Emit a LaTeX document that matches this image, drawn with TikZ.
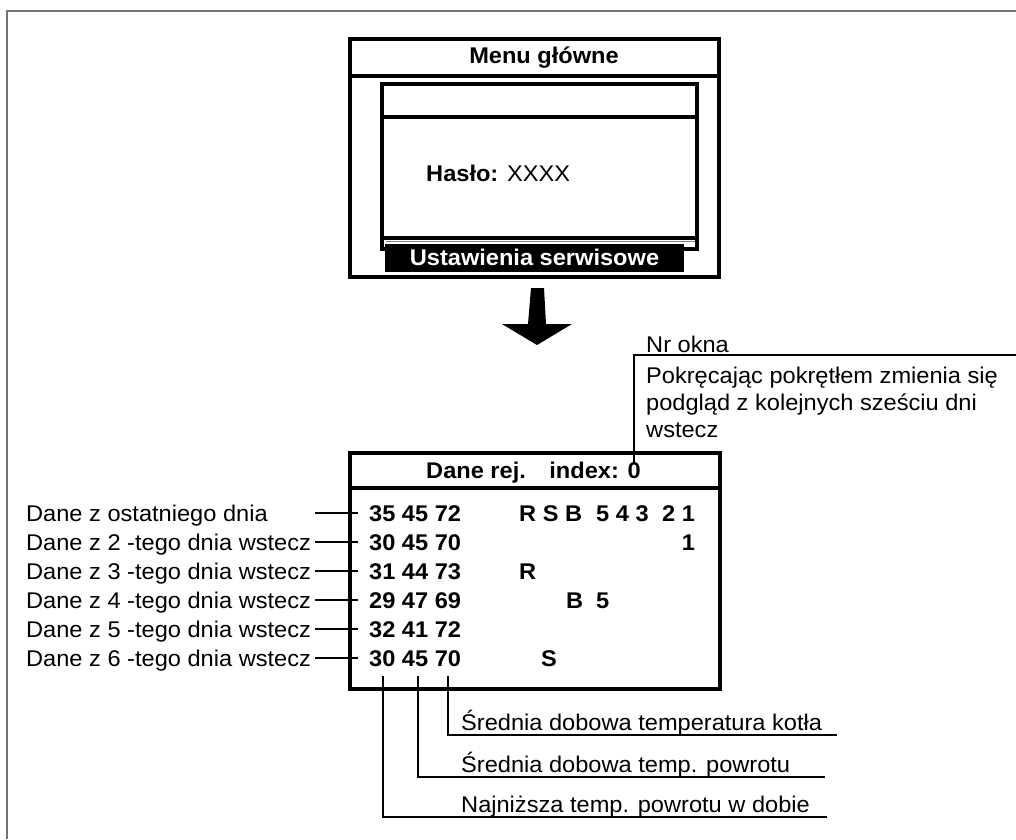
\documentclass[tikz,border=0pt]{standalone}
\usepackage{fontspec}
\setmainfont{Liberation Sans}[FakeStretch=1.04]
\usetikzlibrary{positioning,calc}

\newcommand{\lblfont}{\fontsize{22.7}{27}\selectfont}

\begin{document}
\begin{tikzpicture}[x=1pt, y=-1pt,
  lbl/.style={font=\lblfont, inner sep=0pt, anchor=base west},
  val/.style={font=\lblfont\bfseries, inner sep=0pt, anchor=base west},
  screen/.style={line width=3.4pt},
  lead/.style={line width=1.4pt},
  edge/.style={line width=1.6pt, draw=black!55}
]
\useasboundingbox (0,0) rectangle (1016,839);

% page frame
\draw[edge] (1016,11) -- (7,11) -- (7,839);

% main menu with password window
\draw[screen] (350,39) rectangle (719,277);
\draw[screen] (350,76) -- (719,76);
\node[val, anchor=center] (menu) at (544,58) {Menu główne};
\draw[screen] (382,84) rectangle (697,249);
\draw[screen] (382,117) -- (697,117);
\draw[screen] (382,238) -- (697,238);
\draw[line width=0.8pt, black!50] (386,241) -- (695,241);
\node[val] (pwd) at (426,181) {Hasło: \mdseries XXXX};
\node[fill=black, text=white, font=\lblfont\bfseries, inner sep=0pt,
      minimum width=299pt, minimum height=28pt] (bar) at (534.5,257.5) {Ustawienia serwisowe};

% arrow down
\fill (531,288) -- (544,288) -- (546,324) -- (572,324) -- (537,345)
  -- (502,324) -- (528,324) -- cycle;

% register screen
\draw[screen] (350,453) rectangle (720,689);
\draw[screen] (350,488) -- (720,488);
\node[val] (title) at (426,478) {Dane rej.};
\node[val, anchor=base east] (idx) at (641,478) {index: 0};

% window number note
\node[lbl] (nr) at (646,352) {Nr okna};
\node[lbl] (wnd1) at (646,383) {Pokręcając pokrętłem zmienia się};
\node[lbl] (wnd2) at (646,410) {podgląd z kolejnych sześciu dni};
\node[lbl] (wnd3) at (646,437) {wstecz};
\coordinate (nrfoot) at (634,463);
\coordinate (nrend) at (1016,355);
\draw[lead] (nrfoot) |- (nrend);

% days back
\foreach \i/\txt/\vals in {1/Dane z ostatniego dnia/35 45 72,
    2/Dane z 2 -tego dnia wstecz/30 45 70,
    3/Dane z 3 -tego dnia wstecz/31 44 73,
    4/Dane z 4 -tego dnia wstecz/29 47 69,
    5/Dane z 5 -tego dnia wstecz/32 41 72,
    6/Dane z 6 -tego dnia wstecz/30 45 70} {
  \pgfmathsetmacro{\yy}{513+29*(\i-1)}
  \node[lbl] (day\i) at (26,\yy+8) {\txt};
  \node[val] (row\i) at (369,\yy+8) {\vals};
  \coordinate (ls\i) at (315,\yy);
  \coordinate (le\i) at (358,\yy);
  \draw[lead] (ls\i) -- (le\i);
}

% burner flags
\node[val] (flags1) at (519,521) {R S B};
\node[val] (nums1) at (596,521) {5 4 3};
\node[val] (nums1b) at (662,521) {2 1};
\node[val] (one2) at (681.7,550) {1};
\node[val] (r3) at (519,579) {R};
\node[val] (b4) at (566,608) {B};
\node[val] (f4) at (596,608) {5};
\node[val] (s6) at (541,666) {S};

% column legend
\coordinate (tmin) at (383,676);
\coordinate (tavg) at (418,676);
\coordinate (tboil) at (448,676);
\coordinate (eboil) at (837,735);
\coordinate (eavg) at (825,777);
\coordinate (emin) at (827,817);
\draw[lead] (tboil) |- (eboil);
\draw[lead] (tavg) |- (eavg);
\draw[lead] (tmin) |- (emin);
\node[lbl] (lboil) at (461,730) {Średnia dobowa temperatura kotła};
\node[lbl] (lavg) at (461,772) {Średnia dobowa temp. powrotu};
\node[lbl] (lmin) at (461,812) {Najniższa temp. powrotu w dobie};

\end{tikzpicture}
\end{document}
